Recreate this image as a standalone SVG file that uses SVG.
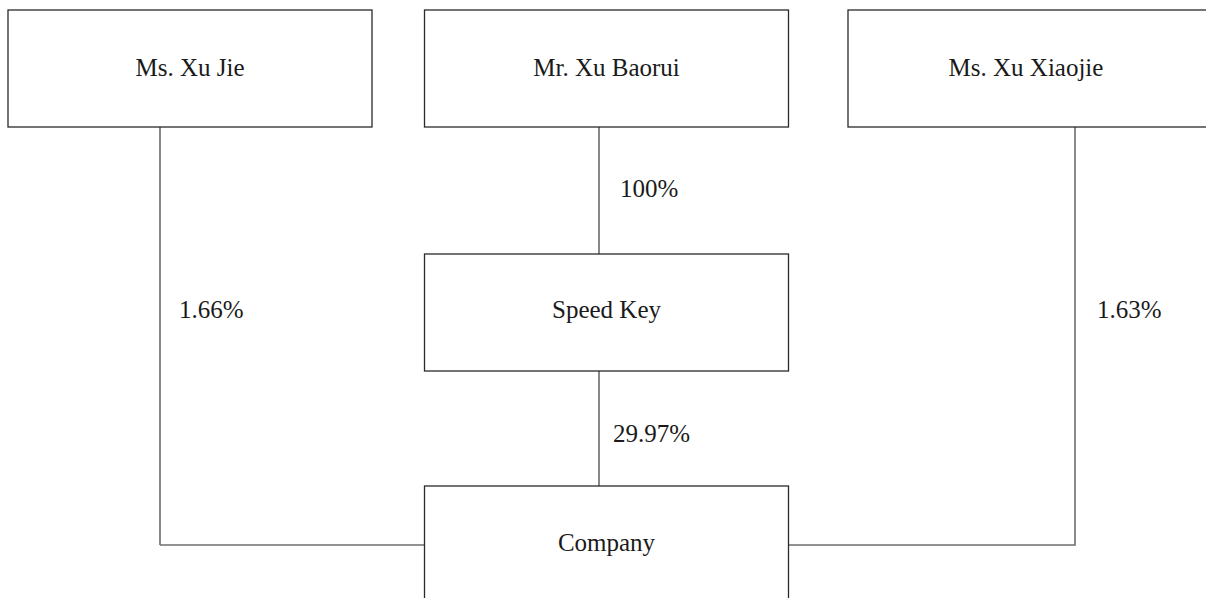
<svg xmlns="http://www.w3.org/2000/svg" width="1206" height="598" viewBox="0 0 1206 598">
<style>
.box{fill:#fff;stroke:#2a2a2a;stroke-width:1.3}
.lbl{font-family:"Liberation Serif","Times New Roman",serif;font-size:25px;fill:#1a1a1a}
.c{text-anchor:middle}
.conn{fill:none;stroke:#3a3a3a;stroke-width:1.2}
.connh{fill:none;stroke:#6e6e6e;stroke-width:1.6}
</style>
<rect width="1206" height="598" fill="#fff"/>
<g id="connectors">
<polyline class="conn" points="160,127 160,545"/>
<line class="connh" x1="160" y1="545" x2="425" y2="545"/>
<line class="conn" x1="599" y1="127" x2="599" y2="254"/>
<line class="conn" x1="599" y1="371" x2="599" y2="486"/>
<polyline class="connh" points="1075,127 1075,545 789,545"/>
<text class="lbl" x="620" y="197">100%</text>
<text class="lbl" x="179" y="318">1.66%</text>
<text class="lbl" x="1097" y="318">1.63%</text>
<text class="lbl" x="613" y="442">29.97%</text>
</g>
<g id="node-xujie">
<rect class="box" x="8" y="10" width="364" height="117"/>
<text class="lbl c" x="190" y="76">Ms. Xu Jie</text>
</g>
<g id="node-xubaorui">
<rect class="box" x="424.5" y="10" width="364" height="117"/>
<text class="lbl c" x="606.5" y="76">Mr. Xu Baorui</text>
</g>
<g id="node-xuxiaojie">
<rect class="box" x="848" y="10" width="364" height="117"/>
<text class="lbl c" x="1026" y="76">Ms. Xu Xiaojie</text>
</g>
<g id="node-speedkey">
<rect class="box" x="424.5" y="254" width="364" height="117"/>
<text class="lbl c" x="606.5" y="318">Speed Key</text>
</g>
<g id="node-company">
<rect class="box" x="424.5" y="486" width="364" height="130"/>
<text class="lbl c" x="606.5" y="551">Company</text>
</g>
</svg>
